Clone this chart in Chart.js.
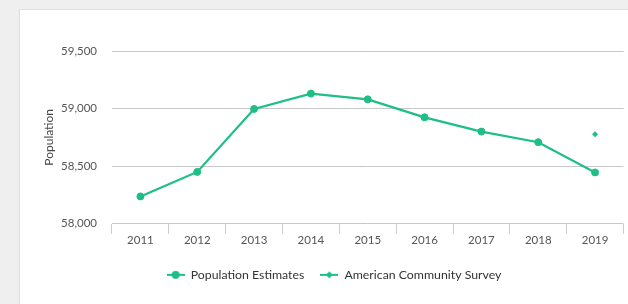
<!DOCTYPE html>
<html>
<head>
<meta charset="utf-8">
<script src="https://cdn.jsdelivr.net/npm/chart.js@4"></script>
<style>
  html, body { margin: 0; padding: 0; background: #efefef; overflow: hidden; }
  .card {
    position: absolute; left: 19px; top: 9px; width: 640px; height: 320px;
    background: #fff; border: 1px solid #dedede; box-sizing: border-box;
  }
  #chart { position: absolute; left: 0; top: 0; }
</style>
</head>
<body>
<div class="card">
  <canvas id="chart" width="608" height="294"></canvas>
</div>
<script>
const years = ["2011", "2012", "2013", "2014", "2015", "2016", "2017", "2018", "2019"];
const popEstimates = [58237, 58450, 58997, 59130, 59080, 58924, 58800, 58708, 58445];
const acsValues = [null, null, null, null, null, null, null, null, 58778];
const yTicks = [58000, 58500, 59000, 59500];

const GREEN = '#1dbf85';

function legendIcon(kind){
  const c = document.createElement('canvas');
  c.width = 18; c.height = 10;
  const g = c.getContext('2d');
  g.strokeStyle = GREEN; g.fillStyle = GREEN; g.lineWidth = 2;
  g.beginPath(); g.moveTo(0, 5); g.lineTo(18, 5); g.stroke();
  g.beginPath();
  if(kind === 'circle'){
    g.arc(9, 5, 4, 0, Math.PI * 2);
  } else {
    g.moveTo(9, 1.5); g.lineTo(12.5, 5); g.lineTo(9, 8.5); g.lineTo(5.5, 5); g.closePath();
  }
  g.fill();
  return c;
}
const icons = [legendIcon('circle'), legendIcon('diamond')];

new Chart(document.getElementById('chart').getContext('2d'), {
  type: 'line',
  data: {
    labels: years,
    datasets: [{
      label: 'Population Estimates',
      data: popEstimates,
      borderColor: GREEN,
      backgroundColor: GREEN,
      borderWidth: 2.2,
      pointRadius: 3.5,
      pointBorderWidth: 1,
      pointHoverRadius: 3.5,
      tension: 0
    }, {
      label: 'American Community Survey',
      data: acsValues,
      borderColor: GREEN,
      backgroundColor: GREEN,
      showLine: false,
      pointStyle: 'rectRot',
      pointRadius: 3,
      pointBorderWidth: 0
    }]
  },
  options: {
    responsive: false,
    animation: false,
    layout: { padding: { left: 22, right: 2, top: 41, bottom: 13 } },
    scales: {
      x: {
        offset: true,
        grid: { offset: true, drawOnChartArea: false, drawTicks: true, tickLength: 10, color: '#cccccc' },
        border: { display: false },
        ticks: { color: '#555', padding: 0, font: { family: 'Lato', size: 11.5 } },
        afterFit: (s) => { s.height = 29; }
      },
      y: {
        min: 58000,
        max: 59500,
        afterBuildTicks: (s) => { s.ticks = yTicks.map(v => ({ value: v })); },
        grid: { color: '#c8c8c8', drawTicks: false },
        border: { display: false },
        ticks: {
          color: '#555', padding: 15, font: { family: 'Lato', size: 11.5 },
          callback: (v) => Number(v).toLocaleString('en-US')
        },
        title: { display: true, text: 'Population', color: '#444', font: { family: 'Lato', size: 12 }, padding: 0 },
        afterFit: (s) => { s.width = 70; }
      }
    },
    plugins: {
      legend: {
        position: 'bottom',
        labels: {
          usePointStyle: true,
          pointStyleWidth: 18,
          color: '#333',
          font: { family: 'Lato', size: 12.3 },
          padding: 16,
          generateLabels: (chart) => {
            const items = Chart.defaults.plugins.legend.labels.generateLabels(chart);
            items.forEach((it, i) => { it.pointStyle = icons[i]; });
            return items;
          }
        }
      },
      tooltip: { enabled: false }
    }
  }
});
</script>
</body>
</html>
